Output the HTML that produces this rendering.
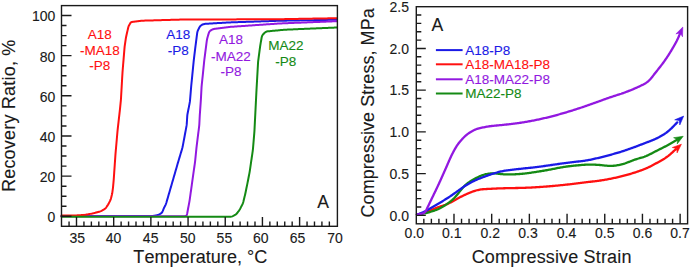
<!DOCTYPE html>
<html><head><meta charset="utf-8"><style>
html,body{margin:0;padding:0;background:#fff;width:691px;height:267px;overflow:hidden}
svg{display:block;font-family:'Liberation Sans', sans-serif;font-kerning:none}
</style></head><body>
<svg width="691" height="267" viewBox="0 0 691 267">
<path d="M61.50,216.00 L62.50,216.00 L63.50,216.00 L64.50,216.00 L65.50,216.00 L66.50,216.00 L67.50,216.00 L68.50,216.00 L69.50,216.00 L70.50,216.00 L71.50,216.00 L72.50,216.00 L73.50,216.00 L74.50,216.00 L75.50,216.00 L76.50,216.00 L77.50,216.00 L78.50,216.00 L79.50,216.00 L80.50,216.00 L81.50,216.00 L82.50,216.00 L83.50,216.00 L84.50,216.00 L85.50,216.00 L86.50,216.00 L87.50,216.00 L88.50,216.00 L89.50,216.00 L90.50,216.00 L91.50,216.00 L92.50,216.00 L93.50,216.00 L94.50,216.00 L95.50,216.00 L96.50,216.00 L97.50,216.00 L98.50,216.00 L99.50,216.00 L100.50,216.00 L101.50,216.00 L102.50,216.00 L103.50,216.00 L104.50,216.00 L105.50,216.00 L106.50,216.00 L107.50,216.00 L108.50,216.00 L109.50,216.00 L110.50,216.00 L111.50,216.00 L112.50,216.00 L113.50,216.00 L114.50,216.00 L115.50,216.00 L116.50,216.00 L117.50,216.00 L118.50,216.00 L119.50,216.00 L120.50,216.00 L121.50,216.00 L122.50,216.00 L123.50,216.00 L124.50,216.00 L125.50,216.00 L126.50,216.00 L127.50,216.00 L128.50,216.00 L129.50,216.00 L130.50,216.00 L131.50,216.00 L132.50,216.00 L133.50,216.00 L134.50,216.00 L135.50,216.00 L136.50,216.00 L137.50,216.00 L138.50,216.00 L139.50,216.00 L140.50,216.00 L141.50,216.00 L142.50,216.00 L143.50,216.00 L144.50,216.00 L145.50,216.00 L146.50,216.00 L147.50,216.00 L148.50,216.00 L149.50,216.00 L150.50,216.00 L151.50,215.98 L152.49,215.92 L153.48,215.80 L154.47,215.64 L155.45,215.47 L156.43,215.28 L157.40,215.06 L158.34,214.76 L159.26,214.38 L160.15,213.93 L160.98,213.43 L161.70,212.82 L162.25,212.06 L162.67,211.18 L163.04,210.26 L163.40,209.33 L163.80,208.41 L164.22,207.51 L164.67,206.61 L165.11,205.72 L165.55,204.82 L165.94,203.91 L166.27,202.97 L166.56,202.01 L166.84,201.05 L167.12,200.09 L167.39,199.13 L167.67,198.17 L167.95,197.21 L168.23,196.25 L168.50,195.29 L168.78,194.33 L169.06,193.37 L169.34,192.41 L169.62,191.45 L169.90,190.49 L170.18,189.53 L170.46,188.57 L170.74,187.61 L171.02,186.65 L171.30,185.69 L171.58,184.73 L171.85,183.77 L172.13,182.81 L172.41,181.84 L172.69,180.88 L172.97,179.92 L173.25,178.96 L173.53,178.00 L173.80,177.04 L174.08,176.08 L174.36,175.12 L174.64,174.16 L174.91,173.20 L175.19,172.24 L175.47,171.28 L175.75,170.32 L176.03,169.36 L176.30,168.40 L176.58,167.44 L176.86,166.48 L177.14,165.52 L177.42,164.55 L177.69,163.59 L177.97,162.63 L178.25,161.67 L178.54,160.71 L178.82,159.76 L179.11,158.80 L179.40,157.84 L179.69,156.88 L179.97,155.93 L180.26,154.97 L180.55,154.01 L180.83,153.05 L181.12,152.09 L181.41,151.14 L181.70,150.18 L181.98,149.22 L182.25,148.26 L182.50,147.29 L182.71,146.31 L182.90,145.33 L183.09,144.35 L183.27,143.37 L183.45,142.38 L183.64,141.40 L183.82,140.42 L184.01,139.44 L184.19,138.45 L184.37,137.47 L184.56,136.49 L184.74,135.50 L184.92,134.52 L185.11,133.54 L185.29,132.55 L185.47,131.57 L185.66,130.59 L185.84,129.61 L186.02,128.62 L186.21,127.64 L186.39,126.66 L186.55,125.67 L186.68,124.68 L186.77,123.69 L186.84,122.69 L186.90,121.69 L186.96,120.69 L187.02,119.69 L187.08,118.70 L187.14,117.70 L187.20,116.70 L187.29,115.71 L187.40,114.71 L187.56,113.73 L187.75,112.75 L187.94,111.77 L188.14,110.79 L188.33,109.80 L188.53,108.82 L188.72,107.84 L188.92,106.86 L189.11,105.88 L189.30,104.90 L189.50,103.92 L189.68,102.94 L189.84,101.95 L189.96,100.96 L190.06,99.96 L190.14,98.97 L190.23,97.97 L190.31,96.98 L190.39,95.98 L190.47,94.98 L190.56,93.99 L190.64,92.99 L190.72,91.99 L190.80,91.00 L190.89,90.00 L190.97,89.00 L191.05,88.01 L191.14,87.01 L191.22,86.01 L191.32,85.02 L191.42,84.02 L191.51,83.03 L191.61,82.03 L191.71,81.04 L191.81,80.04 L191.91,79.05 L192.01,78.05 L192.11,77.06 L192.21,76.06 L192.30,75.07 L192.40,74.07 L192.50,73.08 L192.60,72.08 L192.70,71.09 L192.80,70.09 L192.90,69.10 L193.00,68.10 L193.09,67.11 L193.19,66.11 L193.29,65.12 L193.39,64.12 L193.49,63.13 L193.59,62.13 L193.69,61.14 L193.80,60.14 L193.91,59.15 L194.03,58.15 L194.15,57.16 L194.27,56.17 L194.39,55.18 L194.51,54.18 L194.64,53.19 L194.76,52.20 L194.88,51.21 L195.00,50.21 L195.12,49.22 L195.24,48.23 L195.37,47.24 L195.49,46.24 L195.61,45.25 L195.73,44.26 L195.86,43.27 L195.98,42.27 L196.11,41.28 L196.24,40.29 L196.37,39.30 L196.50,38.31 L196.62,37.32 L196.75,36.32 L196.88,35.33 L197.01,34.34 L197.14,33.35 L197.30,32.37 L197.54,31.41 L197.88,30.49 L198.30,29.59 L198.75,28.70 L199.21,27.81 L199.70,26.95 L200.26,26.16 L200.95,25.50 L201.76,24.96 L202.64,24.51 L203.55,24.16 L204.50,23.93 L205.48,23.81 L206.48,23.74 L207.47,23.68 L208.47,23.63 L209.47,23.57 L210.47,23.51 L211.47,23.46 L212.47,23.40 L213.46,23.34 L214.46,23.29 L215.46,23.23 L216.46,23.17 L217.46,23.12 L218.46,23.06 L219.46,23.00 L220.45,22.94 L221.45,22.89 L222.45,22.83 L223.45,22.77 L224.45,22.72 L225.45,22.66 L226.44,22.60 L227.44,22.55 L228.44,22.49 L229.44,22.44 L230.44,22.39 L231.44,22.35 L232.44,22.32 L233.44,22.29 L234.44,22.25 L235.44,22.22 L236.43,22.19 L237.43,22.15 L238.43,22.12 L239.43,22.09 L240.43,22.06 L241.43,22.02 L242.43,21.99 L243.43,21.96 L244.43,21.92 L245.43,21.89 L246.43,21.86 L247.43,21.82 L248.43,21.79 L249.43,21.76 L250.43,21.73 L251.43,21.69 L252.43,21.66 L253.43,21.63 L254.42,21.59 L255.42,21.56 L256.42,21.53 L257.42,21.50 L258.42,21.46 L259.42,21.43 L260.42,21.40 L261.42,21.36 L262.42,21.33 L263.42,21.30 L264.42,21.26 L265.42,21.23 L266.42,21.20 L267.42,21.17 L268.42,21.13 L269.42,21.10 L270.42,21.07 L271.42,21.03 L272.41,21.00 L273.41,20.97 L274.41,20.93 L275.41,20.90 L276.41,20.87 L277.41,20.84 L278.41,20.80 L279.41,20.77 L280.41,20.75 L281.41,20.73 L282.41,20.71 L283.41,20.69 L284.41,20.67 L285.41,20.65 L286.41,20.63 L287.41,20.61 L288.41,20.60 L289.41,20.58 L290.41,20.56 L291.41,20.54 L292.41,20.52 L293.41,20.50 L294.41,20.48 L295.41,20.47 L296.41,20.45 L297.41,20.43 L298.41,20.41 L299.41,20.39 L300.41,20.37 L301.41,20.36 L302.41,20.34 L303.41,20.32 L304.41,20.30 L305.41,20.28 L306.41,20.26 L307.41,20.25 L308.41,20.23 L309.41,20.21 L310.41,20.19 L311.41,20.17 L312.41,20.15 L313.41,20.13 L314.40,20.12 L315.40,20.10 L316.40,20.08 L317.40,20.06 L318.40,20.04 L319.40,20.02 L320.40,20.01 L321.40,19.99 L322.40,19.97 L323.40,19.95 L324.40,19.93 L325.40,19.91 L326.40,19.90 L327.40,19.88 L328.40,19.86 L329.40,19.84 L330.40,19.82 L331.40,19.80 L332.40,19.78 L333.40,19.77 L334.40,19.75 L335.36,19.73 L336.24,19.71 L337.00,19.70 L337.00,19.70" fill="none" stroke="#1a1ae6" stroke-width="2.0" stroke-linejoin="round" stroke-linecap="round"/>
<path d="M61.50,216.20 L62.50,216.20 L63.50,216.20 L64.50,216.20 L65.50,216.20 L66.50,216.20 L67.50,216.20 L68.50,216.20 L69.50,216.20 L70.50,216.20 L71.50,216.20 L72.50,216.20 L73.50,216.20 L74.50,216.20 L75.50,216.20 L76.50,216.20 L77.50,216.20 L78.50,216.20 L79.50,216.20 L80.50,216.20 L81.50,216.20 L82.50,216.20 L83.50,216.20 L84.50,216.20 L85.50,216.20 L86.50,216.20 L87.50,216.20 L88.50,216.20 L89.50,216.20 L90.50,216.20 L91.50,216.20 L92.50,216.20 L93.50,216.20 L94.50,216.20 L95.50,216.20 L96.50,216.20 L97.50,216.20 L98.50,216.20 L99.50,216.20 L100.50,216.20 L101.50,216.20 L102.50,216.20 L103.50,216.20 L104.50,216.20 L105.50,216.20 L106.50,216.20 L107.50,216.20 L108.50,216.20 L109.50,216.20 L110.50,216.20 L111.50,216.20 L112.50,216.20 L113.50,216.20 L114.50,216.20 L115.50,216.20 L116.50,216.20 L117.50,216.20 L118.50,216.20 L119.50,216.20 L120.50,216.20 L121.50,216.20 L122.50,216.20 L123.50,216.20 L124.50,216.20 L125.50,216.20 L126.50,216.20 L127.50,216.20 L128.50,216.20 L129.50,216.20 L130.50,216.20 L131.50,216.20 L132.50,216.20 L133.50,216.20 L134.50,216.20 L135.50,216.20 L136.50,216.20 L137.50,216.20 L138.50,216.20 L139.50,216.20 L140.50,216.20 L141.50,216.20 L142.50,216.20 L143.50,216.20 L144.50,216.20 L145.50,216.20 L146.50,216.20 L147.50,216.20 L148.50,216.20 L149.50,216.20 L150.50,216.20 L151.50,216.20 L152.50,216.20 L153.50,216.20 L154.50,216.20 L155.50,216.20 L156.50,216.20 L157.50,216.20 L158.50,216.20 L159.50,216.20 L160.50,216.20 L161.50,216.20 L162.50,216.20 L163.50,216.20 L164.50,216.20 L165.50,216.20 L166.50,216.20 L167.50,216.20 L168.50,216.20 L169.50,216.20 L170.50,216.20 L171.50,216.20 L172.50,216.20 L173.50,216.20 L174.50,216.20 L175.50,216.20 L176.50,216.20 L177.50,216.20 L178.50,216.20 L179.50,216.20 L180.50,216.20 L181.50,216.20 L182.50,216.20 L183.50,216.20 L184.49,216.18 L185.42,216.10 L186.18,215.82 L186.69,215.23 L186.99,214.39 L187.20,213.44 L187.38,212.46 L187.56,211.48 L187.74,210.49 L187.92,209.51 L188.10,208.53 L188.29,207.54 L188.47,206.56 L188.66,205.58 L188.85,204.60 L189.03,203.61 L189.22,202.63 L189.40,201.65 L189.57,200.66 L189.72,199.68 L189.87,198.69 L190.00,197.70 L190.14,196.70 L190.28,195.71 L190.42,194.72 L190.56,193.73 L190.69,192.74 L190.83,191.75 L190.97,190.76 L191.11,189.77 L191.24,188.78 L191.38,187.79 L191.52,186.80 L191.66,185.81 L191.80,184.82 L191.93,183.83 L192.07,182.84 L192.21,181.85 L192.35,180.86 L192.49,179.87 L192.63,178.88 L192.77,177.89 L192.91,176.90 L193.05,175.91 L193.19,174.92 L193.33,173.93 L193.47,172.94 L193.62,171.95 L193.76,170.96 L193.90,169.97 L194.04,168.98 L194.18,167.99 L194.32,167.00 L194.46,166.01 L194.60,165.02 L194.74,164.03 L194.88,163.04 L195.01,162.05 L195.13,161.05 L195.24,160.06 L195.34,159.06 L195.44,158.07 L195.54,157.07 L195.64,156.08 L195.74,155.08 L195.84,154.09 L195.94,153.09 L196.04,152.10 L196.14,151.10 L196.24,150.11 L196.34,149.11 L196.44,148.12 L196.55,147.13 L196.67,146.13 L196.79,145.14 L196.92,144.15 L197.04,143.16 L197.16,142.16 L197.29,141.17 L197.41,140.18 L197.53,139.19 L197.66,138.19 L197.78,137.20 L197.91,136.21 L198.03,135.22 L198.15,134.22 L198.28,133.23 L198.40,132.24 L198.52,131.25 L198.65,130.26 L198.77,129.26 L198.89,128.27 L199.02,127.28 L199.13,126.29 L199.24,125.29 L199.32,124.30 L199.38,123.30 L199.43,122.30 L199.48,121.30 L199.53,120.30 L199.58,119.30 L199.63,118.30 L199.68,117.31 L199.74,116.31 L199.79,115.31 L199.85,114.31 L199.92,113.31 L199.99,112.31 L200.06,111.32 L200.13,110.32 L200.20,109.32 L200.27,108.32 L200.34,107.33 L200.41,106.33 L200.48,105.33 L200.55,104.33 L200.62,103.34 L200.69,102.34 L200.76,101.34 L200.82,100.34 L200.89,99.35 L200.95,98.35 L201.00,97.35 L201.06,96.35 L201.11,95.35 L201.16,94.35 L201.22,93.36 L201.27,92.36 L201.32,91.36 L201.38,90.36 L201.43,89.36 L201.49,88.36 L201.54,87.36 L201.61,86.37 L201.70,85.37 L201.80,84.38 L201.90,83.38 L202.01,82.39 L202.11,81.39 L202.22,80.40 L202.33,79.40 L202.43,78.41 L202.54,77.42 L202.65,76.42 L202.75,75.43 L202.86,74.43 L202.96,73.44 L203.06,72.44 L203.16,71.45 L203.26,70.45 L203.36,69.46 L203.46,68.46 L203.56,67.47 L203.66,66.47 L203.76,65.48 L203.86,64.48 L203.95,63.49 L204.05,62.49 L204.15,61.50 L204.26,60.50 L204.37,59.51 L204.49,58.52 L204.62,57.53 L204.75,56.53 L204.88,55.54 L205.01,54.55 L205.14,53.56 L205.26,52.57 L205.39,51.58 L205.52,50.58 L205.65,49.59 L205.78,48.60 L205.91,47.61 L206.04,46.62 L206.17,45.62 L206.29,44.63 L206.42,43.64 L206.55,42.65 L206.68,41.66 L206.82,40.67 L206.98,39.68 L207.18,38.71 L207.43,37.74 L207.71,36.78 L207.98,35.82 L208.26,34.86 L208.55,33.90 L208.85,32.96 L209.22,32.07 L209.74,31.29 L210.44,30.64 L211.24,30.08 L212.10,29.59 L213.00,29.22 L213.95,28.98 L214.93,28.82 L215.92,28.69 L216.91,28.56 L217.90,28.44 L218.89,28.31 L219.89,28.19 L220.88,28.06 L221.87,27.93 L222.86,27.81 L223.85,27.68 L224.85,27.56 L225.84,27.43 L226.83,27.30 L227.82,27.18 L228.81,27.06 L229.81,26.95 L230.80,26.86 L231.80,26.78 L232.80,26.71 L233.80,26.64 L234.79,26.57 L235.79,26.50 L236.79,26.43 L237.79,26.36 L238.78,26.29 L239.78,26.23 L240.78,26.16 L241.78,26.09 L242.77,26.02 L243.77,25.95 L244.77,25.88 L245.77,25.81 L246.76,25.74 L247.76,25.67 L248.76,25.61 L249.76,25.54 L250.75,25.47 L251.75,25.40 L252.75,25.33 L253.75,25.26 L254.75,25.19 L255.74,25.12 L256.74,25.05 L257.74,24.99 L258.74,24.92 L259.73,24.85 L260.73,24.78 L261.73,24.71 L262.73,24.64 L263.72,24.57 L264.72,24.50 L265.72,24.44 L266.72,24.37 L267.71,24.30 L268.71,24.23 L269.71,24.16 L270.71,24.09 L271.70,24.02 L272.70,23.95 L273.70,23.88 L274.70,23.82 L275.70,23.75 L276.69,23.68 L277.69,23.61 L278.69,23.54 L279.69,23.48 L280.69,23.43 L281.68,23.38 L282.68,23.34 L283.68,23.30 L284.68,23.27 L285.68,23.23 L286.68,23.19 L287.68,23.15 L288.68,23.11 L289.68,23.07 L290.68,23.03 L291.68,22.99 L292.68,22.95 L293.67,22.91 L294.67,22.87 L295.67,22.83 L296.67,22.79 L297.67,22.75 L298.67,22.71 L299.67,22.67 L300.67,22.63 L301.67,22.59 L302.67,22.56 L303.67,22.52 L304.67,22.48 L305.67,22.44 L306.66,22.40 L307.66,22.36 L308.66,22.32 L309.66,22.28 L310.66,22.24 L311.66,22.20 L312.66,22.16 L313.66,22.12 L314.66,22.08 L315.66,22.04 L316.66,22.00 L317.66,21.96 L318.66,21.92 L319.65,21.88 L320.65,21.85 L321.65,21.81 L322.65,21.77 L323.65,21.73 L324.65,21.69 L325.65,21.65 L326.65,21.61 L327.65,21.57 L328.65,21.53 L329.65,21.49 L330.65,21.45 L331.65,21.41 L332.64,21.37 L333.64,21.33 L334.64,21.29 L335.61,21.25 L336.55,21.22 L337.00,21.20" fill="none" stroke="#9218e0" stroke-width="2.0" stroke-linejoin="round" stroke-linecap="round"/>
<path d="M61.50,215.60 L62.50,215.59 L63.50,215.59 L64.50,215.58 L65.50,215.57 L66.50,215.56 L67.50,215.56 L68.50,215.55 L69.50,215.54 L70.50,215.53 L71.50,215.53 L72.50,215.52 L73.50,215.51 L74.50,215.50 L75.50,215.46 L76.50,215.41 L77.49,215.34 L78.49,215.28 L79.49,215.22 L80.49,215.15 L81.49,215.09 L82.48,215.03 L83.48,214.96 L84.48,214.87 L85.47,214.73 L86.45,214.56 L87.44,214.39 L88.42,214.22 L89.41,214.05 L90.39,213.88 L91.38,213.70 L92.36,213.51 L93.33,213.29 L94.31,213.06 L95.27,212.81 L96.23,212.53 L97.19,212.24 L98.15,211.97 L99.12,211.70 L100.08,211.43 L101.01,211.10 L101.90,210.65 L102.76,210.14 L103.62,209.63 L104.47,209.11 L105.26,208.53 L105.92,207.81 L106.50,207.00 L107.06,206.17 L107.61,205.33 L108.15,204.50 L108.66,203.63 L109.11,202.75 L109.55,201.85 L109.99,200.95 L110.41,200.04 L110.76,199.11 L111.03,198.15 L111.28,197.19 L111.52,196.21 L111.76,195.24 L112.00,194.27 L112.20,193.30 L112.36,192.31 L112.49,191.32 L112.62,190.33 L112.76,189.34 L112.89,188.34 L113.00,187.35 L113.11,186.36 L113.20,185.36 L113.29,184.37 L113.39,183.37 L113.48,182.37 L113.57,181.38 L113.66,180.38 L113.74,179.39 L113.81,178.39 L113.88,177.39 L113.95,176.39 L114.02,175.40 L114.09,174.40 L114.16,173.40 L114.22,172.40 L114.29,171.40 L114.36,170.41 L114.43,169.41 L114.50,168.41 L114.57,167.41 L114.64,166.42 L114.71,165.42 L114.77,164.42 L114.84,163.42 L114.91,162.43 L114.98,161.43 L115.05,160.43 L115.12,159.43 L115.19,158.44 L115.26,157.44 L115.32,156.44 L115.39,155.44 L115.46,154.45 L115.54,153.45 L115.63,152.45 L115.71,151.46 L115.80,150.46 L115.89,149.46 L115.98,148.47 L116.06,147.47 L116.15,146.47 L116.24,145.48 L116.33,144.48 L116.42,143.49 L116.50,142.49 L116.59,141.49 L116.68,140.50 L116.77,139.50 L116.85,138.51 L116.94,137.51 L117.03,136.51 L117.12,135.52 L117.20,134.52 L117.29,133.52 L117.38,132.53 L117.47,131.53 L117.56,130.54 L117.66,129.54 L117.77,128.55 L117.88,127.55 L117.99,126.56 L118.11,125.57 L118.22,124.57 L118.33,123.58 L118.45,122.59 L118.56,121.59 L118.67,120.60 L118.79,119.61 L118.90,118.61 L119.01,117.62 L119.13,116.63 L119.24,115.63 L119.36,114.64 L119.47,113.64 L119.58,112.65 L119.70,111.66 L119.81,110.66 L119.92,109.67 L120.03,108.68 L120.13,107.68 L120.23,106.69 L120.33,105.69 L120.43,104.70 L120.53,103.70 L120.63,102.71 L120.73,101.71 L120.82,100.72 L120.91,99.72 L120.97,98.72 L121.03,97.72 L121.09,96.73 L121.15,95.73 L121.20,94.73 L121.26,93.73 L121.32,92.73 L121.38,91.73 L121.44,90.74 L121.49,89.74 L121.55,88.74 L121.61,87.74 L121.67,86.74 L121.72,85.74 L121.78,84.75 L121.84,83.75 L121.90,82.75 L121.95,81.75 L122.01,80.75 L122.07,79.75 L122.13,78.76 L122.18,77.76 L122.24,76.76 L122.30,75.76 L122.36,74.76 L122.42,73.76 L122.48,72.77 L122.55,71.77 L122.63,70.77 L122.71,69.77 L122.79,68.78 L122.87,67.78 L122.95,66.78 L123.04,65.79 L123.12,64.79 L123.20,63.79 L123.28,62.80 L123.36,61.80 L123.45,60.80 L123.53,59.81 L123.61,58.81 L123.69,57.82 L123.77,56.82 L123.86,55.82 L123.94,54.83 L124.02,53.83 L124.10,52.83 L124.19,51.84 L124.27,50.84 L124.35,49.84 L124.43,48.85 L124.52,47.85 L124.61,46.85 L124.74,45.86 L124.88,44.87 L125.03,43.88 L125.18,42.89 L125.32,41.91 L125.47,40.92 L125.61,39.93 L125.76,38.94 L125.91,37.95 L126.09,36.97 L126.30,35.99 L126.52,35.01 L126.74,34.04 L126.96,33.06 L127.18,32.09 L127.41,31.11 L127.63,30.14 L127.85,29.16 L128.07,28.19 L128.31,27.22 L128.61,26.28 L129.04,25.38 L129.54,24.52 L130.04,23.65 L130.57,22.82 L131.22,22.19 L132.10,21.89 L133.08,21.76 L134.07,21.64 L135.06,21.52 L136.06,21.40 L137.05,21.29 L138.04,21.17 L139.03,21.05 L140.03,20.93 L141.02,20.82 L142.02,20.73 L143.01,20.67 L144.01,20.64 L145.01,20.61 L146.01,20.58 L147.01,20.55 L148.01,20.53 L149.01,20.50 L150.01,20.47 L151.01,20.44 L152.01,20.41 L153.01,20.38 L154.01,20.35 L155.01,20.32 L156.01,20.29 L157.01,20.27 L158.01,20.24 L159.01,20.21 L160.01,20.18 L161.01,20.15 L162.01,20.12 L163.01,20.09 L164.00,20.06 L165.00,20.03 L166.00,20.01 L167.00,19.98 L168.00,19.95 L169.00,19.92 L170.00,19.89 L171.00,19.86 L172.00,19.83 L173.00,19.80 L174.00,19.77 L175.00,19.74 L176.00,19.72 L177.00,19.69 L178.00,19.66 L179.00,19.63 L180.00,19.61 L181.00,19.60 L182.00,19.59 L183.00,19.59 L184.00,19.58 L185.00,19.58 L186.00,19.58 L187.00,19.57 L188.00,19.57 L189.00,19.56 L190.00,19.56 L191.00,19.56 L192.00,19.55 L193.00,19.55 L194.00,19.54 L195.00,19.54 L196.00,19.54 L197.00,19.53 L198.00,19.53 L199.00,19.52 L200.00,19.52 L201.00,19.52 L202.00,19.51 L203.00,19.51 L204.00,19.50 L205.00,19.50 L206.00,19.50 L207.00,19.49 L208.00,19.49 L209.00,19.48 L210.00,19.48 L211.00,19.48 L212.00,19.47 L213.00,19.47 L214.00,19.46 L215.00,19.46 L216.00,19.46 L217.00,19.45 L218.00,19.45 L219.00,19.44 L220.00,19.44 L221.00,19.44 L222.00,19.43 L223.00,19.43 L224.00,19.42 L225.00,19.42 L226.00,19.42 L227.00,19.41 L228.00,19.41 L229.00,19.40 L230.00,19.40 L231.00,19.40 L232.00,19.39 L233.00,19.39 L234.00,19.38 L235.00,19.38 L236.00,19.38 L237.00,19.37 L238.00,19.37 L239.00,19.36 L240.00,19.36 L241.00,19.36 L242.00,19.35 L243.00,19.35 L244.00,19.34 L245.00,19.34 L246.00,19.34 L247.00,19.33 L248.00,19.33 L249.00,19.32 L250.00,19.32 L251.00,19.32 L252.00,19.31 L253.00,19.31 L254.00,19.30 L255.00,19.30 L256.00,19.30 L257.00,19.29 L258.00,19.29 L259.00,19.28 L260.00,19.28 L261.00,19.28 L262.00,19.27 L263.00,19.27 L264.00,19.26 L265.00,19.26 L266.00,19.26 L267.00,19.25 L268.00,19.25 L269.00,19.24 L270.00,19.24 L271.00,19.24 L272.00,19.23 L273.00,19.23 L274.00,19.22 L275.00,19.22 L276.00,19.22 L277.00,19.21 L278.00,19.21 L279.00,19.20 L280.00,19.20 L281.00,19.18 L282.00,19.16 L283.00,19.15 L284.00,19.13 L285.00,19.11 L286.00,19.09 L287.00,19.08 L288.00,19.06 L289.00,19.04 L290.00,19.02 L291.00,19.01 L292.00,18.99 L293.00,18.97 L294.00,18.95 L295.00,18.94 L295.99,18.92 L296.99,18.90 L297.99,18.88 L298.99,18.87 L299.99,18.85 L300.99,18.83 L301.99,18.81 L302.99,18.80 L303.99,18.78 L304.99,18.76 L305.99,18.74 L306.99,18.73 L307.99,18.71 L308.99,18.69 L309.99,18.67 L310.99,18.66 L311.99,18.64 L312.99,18.62 L313.99,18.60 L314.99,18.59 L315.99,18.57 L316.99,18.55 L317.99,18.53 L318.99,18.52 L319.99,18.50 L320.99,18.48 L321.99,18.46 L322.99,18.45 L323.99,18.43 L324.99,18.41 L325.99,18.39 L326.99,18.38 L327.99,18.36 L328.99,18.34 L329.99,18.32 L330.99,18.31 L331.99,18.29 L332.99,18.27 L333.99,18.25 L334.99,18.24 L335.96,18.22 L336.72,18.20 L337.00,18.20" fill="none" stroke="#ff1010" stroke-width="2.0" stroke-linejoin="round" stroke-linecap="round"/>
<path d="M61.50,216.80 L62.50,216.80 L63.50,216.80 L64.50,216.80 L65.50,216.80 L66.50,216.80 L67.50,216.80 L68.50,216.80 L69.50,216.80 L70.50,216.80 L71.50,216.80 L72.50,216.80 L73.50,216.80 L74.50,216.80 L75.50,216.80 L76.50,216.80 L77.50,216.80 L78.50,216.80 L79.50,216.80 L80.50,216.80 L81.50,216.80 L82.50,216.80 L83.50,216.80 L84.50,216.80 L85.50,216.80 L86.50,216.80 L87.50,216.80 L88.50,216.80 L89.50,216.80 L90.50,216.80 L91.50,216.80 L92.50,216.80 L93.50,216.80 L94.50,216.80 L95.50,216.80 L96.50,216.80 L97.50,216.80 L98.50,216.80 L99.50,216.80 L100.50,216.80 L101.50,216.80 L102.50,216.80 L103.50,216.80 L104.50,216.80 L105.50,216.80 L106.50,216.80 L107.50,216.80 L108.50,216.80 L109.50,216.80 L110.50,216.80 L111.50,216.80 L112.50,216.80 L113.50,216.80 L114.50,216.80 L115.50,216.80 L116.50,216.80 L117.50,216.80 L118.50,216.80 L119.50,216.80 L120.50,216.80 L121.50,216.80 L122.50,216.80 L123.50,216.80 L124.50,216.80 L125.50,216.80 L126.50,216.80 L127.50,216.80 L128.50,216.80 L129.50,216.80 L130.50,216.80 L131.50,216.80 L132.50,216.80 L133.50,216.80 L134.50,216.80 L135.50,216.80 L136.50,216.80 L137.50,216.80 L138.50,216.80 L139.50,216.80 L140.50,216.80 L141.50,216.80 L142.50,216.80 L143.50,216.80 L144.50,216.80 L145.50,216.80 L146.50,216.80 L147.50,216.80 L148.50,216.80 L149.50,216.80 L150.50,216.80 L151.50,216.80 L152.50,216.80 L153.50,216.80 L154.50,216.80 L155.50,216.80 L156.50,216.80 L157.50,216.80 L158.50,216.80 L159.50,216.80 L160.50,216.80 L161.50,216.80 L162.50,216.80 L163.50,216.80 L164.50,216.80 L165.50,216.80 L166.50,216.80 L167.50,216.80 L168.50,216.80 L169.50,216.80 L170.50,216.80 L171.50,216.80 L172.50,216.80 L173.50,216.80 L174.50,216.80 L175.50,216.80 L176.50,216.80 L177.50,216.80 L178.50,216.80 L179.50,216.80 L180.50,216.80 L181.50,216.80 L182.50,216.80 L183.50,216.80 L184.50,216.80 L185.50,216.80 L186.50,216.80 L187.50,216.80 L188.50,216.80 L189.50,216.80 L190.50,216.80 L191.50,216.80 L192.50,216.80 L193.50,216.80 L194.50,216.80 L195.50,216.80 L196.50,216.80 L197.50,216.80 L198.50,216.80 L199.50,216.80 L200.50,216.80 L201.50,216.80 L202.50,216.80 L203.50,216.80 L204.50,216.80 L205.50,216.80 L206.50,216.80 L207.50,216.80 L208.50,216.80 L209.50,216.80 L210.50,216.80 L211.50,216.80 L212.50,216.80 L213.50,216.80 L214.50,216.80 L215.50,216.80 L216.50,216.80 L217.50,216.80 L218.50,216.80 L219.50,216.80 L220.50,216.80 L221.50,216.80 L222.50,216.80 L223.50,216.80 L224.50,216.80 L225.50,216.80 L226.50,216.80 L227.50,216.80 L228.50,216.80 L229.50,216.79 L230.49,216.75 L231.45,216.62 L232.38,216.34 L233.28,215.94 L234.17,215.48 L235.03,214.98 L235.84,214.43 L236.56,213.77 L237.21,213.03 L237.83,212.24 L238.43,211.45 L239.01,210.64 L239.56,209.80 L240.06,208.94 L240.53,208.06 L240.98,207.17 L241.44,206.28 L241.89,205.39 L242.33,204.49 L242.73,203.58 L243.08,202.65 L243.36,201.69 L243.60,200.73 L243.84,199.75 L244.08,198.78 L244.32,197.81 L244.55,196.84 L244.79,195.87 L245.02,194.90 L245.24,193.92 L245.45,192.94 L245.66,191.96 L245.86,190.99 L246.06,190.01 L246.26,189.03 L246.46,188.05 L246.66,187.07 L246.87,186.09 L247.07,185.11 L247.27,184.13 L247.47,183.15 L247.66,182.17 L247.85,181.19 L248.04,180.20 L248.24,179.22 L248.43,178.24 L248.62,177.26 L248.81,176.28 L249.00,175.30 L249.19,174.32 L249.38,173.33 L249.56,172.35 L249.73,171.37 L249.89,170.38 L250.04,169.39 L250.18,168.40 L250.32,167.41 L250.47,166.42 L250.61,165.43 L250.76,164.44 L250.90,163.45 L251.04,162.46 L251.19,161.47 L251.33,160.48 L251.48,159.49 L251.62,158.50 L251.76,157.51 L251.91,156.52 L252.05,155.53 L252.20,154.54 L252.34,153.56 L252.48,152.57 L252.63,151.58 L252.76,150.59 L252.88,149.59 L252.99,148.60 L253.07,147.60 L253.16,146.61 L253.24,145.61 L253.33,144.61 L253.41,143.62 L253.49,142.62 L253.58,141.62 L253.66,140.63 L253.74,139.63 L253.83,138.63 L253.91,137.64 L253.99,136.64 L254.08,135.65 L254.16,134.65 L254.24,133.65 L254.32,132.66 L254.39,131.66 L254.45,130.66 L254.51,129.66 L254.56,128.66 L254.61,127.66 L254.66,126.66 L254.71,125.67 L254.76,124.67 L254.81,123.67 L254.86,122.67 L254.91,121.67 L254.96,120.67 L255.01,119.67 L255.06,118.68 L255.11,117.68 L255.16,116.68 L255.21,115.68 L255.26,114.68 L255.31,113.68 L255.36,112.68 L255.41,111.68 L255.46,110.69 L255.51,109.69 L255.56,108.69 L255.61,107.69 L255.66,106.69 L255.71,105.69 L255.76,104.69 L255.81,103.69 L255.86,102.70 L255.91,101.70 L255.96,100.70 L256.01,99.70 L256.06,98.70 L256.11,97.70 L256.16,96.70 L256.21,95.70 L256.26,94.71 L256.31,93.71 L256.36,92.71 L256.41,91.71 L256.47,90.71 L256.52,89.71 L256.57,88.71 L256.63,87.71 L256.68,86.72 L256.74,85.72 L256.80,84.72 L256.85,83.72 L256.91,82.72 L256.97,81.72 L257.02,80.73 L257.08,79.73 L257.13,78.73 L257.19,77.73 L257.25,76.73 L257.30,75.73 L257.36,74.74 L257.42,73.74 L257.47,72.74 L257.53,71.74 L257.58,70.74 L257.64,69.74 L257.70,68.74 L257.75,67.75 L257.81,66.75 L257.87,65.75 L257.92,64.75 L257.98,63.75 L258.04,62.76 L258.12,61.76 L258.22,60.76 L258.35,59.77 L258.48,58.78 L258.61,57.79 L258.74,56.80 L258.87,55.81 L259.01,54.82 L259.14,53.83 L259.27,52.83 L259.41,51.84 L259.54,50.85 L259.67,49.86 L259.80,48.87 L259.94,47.88 L260.07,46.89 L260.22,45.90 L260.38,44.91 L260.54,43.93 L260.71,42.94 L260.88,41.95 L261.05,40.97 L261.22,39.98 L261.39,39.00 L261.57,38.02 L261.76,37.04 L262.04,36.11 L262.46,35.25 L263.05,34.48 L263.71,33.75 L264.41,33.04 L265.14,32.38 L265.93,31.86 L266.81,31.52 L267.76,31.34 L268.75,31.23 L269.75,31.14 L270.74,31.04 L271.74,30.95 L272.73,30.86 L273.73,30.76 L274.72,30.67 L275.72,30.57 L276.71,30.48 L277.71,30.39 L278.71,30.29 L279.70,30.20 L280.70,30.11 L281.69,30.01 L282.69,29.92 L283.68,29.83 L284.68,29.75 L285.68,29.68 L286.68,29.63 L287.68,29.59 L288.67,29.54 L289.67,29.50 L290.67,29.46 L291.67,29.42 L292.67,29.38 L293.67,29.33 L294.67,29.29 L295.67,29.25 L296.67,29.21 L297.67,29.16 L298.67,29.12 L299.66,29.08 L300.66,29.04 L301.66,29.00 L302.66,28.95 L303.66,28.91 L304.66,28.87 L305.66,28.83 L306.66,28.78 L307.66,28.74 L308.66,28.70 L309.66,28.66 L310.66,28.61 L311.65,28.57 L312.65,28.53 L313.65,28.49 L314.65,28.45 L315.65,28.40 L316.65,28.36 L317.65,28.32 L318.65,28.28 L319.65,28.23 L320.65,28.19 L321.65,28.15 L322.64,28.11 L323.64,28.07 L324.64,28.02 L325.64,27.98 L326.64,27.94 L327.64,27.90 L328.64,27.85 L329.64,27.81 L330.64,27.77 L331.64,27.73 L332.64,27.68 L333.63,27.64 L334.63,27.60 L335.60,27.56 L336.54,27.52 L337.00,27.50" fill="none" stroke="#148a14" stroke-width="2.0" stroke-linejoin="round" stroke-linecap="round"/>
<path d="M69.06,226.3v-4.8 M76.50,226.3v-9.4 M83.94,226.3v-4.8 M91.37,226.3v-4.8 M98.81,226.3v-4.8 M106.25,226.3v-4.8 M113.69,226.3v-9.4 M121.12,226.3v-4.8 M128.56,226.3v-4.8 M136.00,226.3v-4.8 M143.43,226.3v-4.8 M150.87,226.3v-9.4 M158.31,226.3v-4.8 M165.74,226.3v-4.8 M173.18,226.3v-4.8 M180.62,226.3v-4.8 M188.06,226.3v-9.4 M195.49,226.3v-4.8 M202.93,226.3v-4.8 M210.37,226.3v-4.8 M217.80,226.3v-4.8 M225.24,226.3v-9.4 M232.68,226.3v-4.8 M240.11,226.3v-4.8 M247.55,226.3v-4.8 M254.99,226.3v-4.8 M262.43,226.3v-9.4 M269.86,226.3v-4.8 M277.30,226.3v-4.8 M284.74,226.3v-4.8 M292.17,226.3v-4.8 M299.61,226.3v-9.4 M307.05,226.3v-4.8 M314.48,226.3v-4.8 M321.92,226.3v-4.8 M329.36,226.3v-4.8 M61.5,216.30h10 M61.5,206.26h5 M61.5,196.22h5 M61.5,186.18h5 M61.5,176.14h10 M61.5,166.10h5 M61.5,156.06h5 M61.5,146.02h5 M61.5,135.98h10 M61.5,125.94h5 M61.5,115.90h5 M61.5,105.86h5 M61.5,95.82h10 M61.5,85.78h5 M61.5,75.74h5 M61.5,65.70h5 M61.5,55.66h10 M61.5,45.62h5 M61.5,35.58h5 M61.5,25.54h5 M61.5,15.50h10" stroke="#1a1a1a" stroke-width="1.4" fill="none"/>
<rect x="61.5" y="5.6" width="275.9" height="220.70000000000002" fill="none" stroke="#1a1a1a" stroke-width="1.4"/>
<text x="55.4" y="222.20000000000002" font-size="14" fill="#1a1a1a" stroke="#1a1a1a" stroke-width="0.12" text-anchor="end" >0</text>
<text x="55.4" y="182.04000000000002" font-size="14" fill="#1a1a1a" stroke="#1a1a1a" stroke-width="0.12" text-anchor="end" >20</text>
<text x="55.4" y="141.88000000000002" font-size="14" fill="#1a1a1a" stroke="#1a1a1a" stroke-width="0.12" text-anchor="end" >40</text>
<text x="55.4" y="101.72000000000001" font-size="14" fill="#1a1a1a" stroke="#1a1a1a" stroke-width="0.12" text-anchor="end" >60</text>
<text x="55.4" y="61.560000000000024" font-size="14" fill="#1a1a1a" stroke="#1a1a1a" stroke-width="0.12" text-anchor="end" >80</text>
<text x="55.4" y="21.4" font-size="14" fill="#1a1a1a" stroke="#1a1a1a" stroke-width="0.12" text-anchor="end" >100</text>
<text x="77.3" y="243.2" font-size="14" fill="#1a1a1a" stroke="#1a1a1a" stroke-width="0.12" text-anchor="middle" >35</text>
<text x="113.60000000000001" y="243.2" font-size="14" fill="#1a1a1a" stroke="#1a1a1a" stroke-width="0.12" text-anchor="middle" >40</text>
<text x="150.64999999999998" y="243.2" font-size="14" fill="#1a1a1a" stroke="#1a1a1a" stroke-width="0.12" text-anchor="middle" >45</text>
<text x="187.7" y="243.2" font-size="14" fill="#1a1a1a" stroke="#1a1a1a" stroke-width="0.12" text-anchor="middle" >50</text>
<text x="224.39999999999998" y="243.2" font-size="14" fill="#1a1a1a" stroke="#1a1a1a" stroke-width="0.12" text-anchor="middle" >55</text>
<text x="260.8" y="243.2" font-size="14" fill="#1a1a1a" stroke="#1a1a1a" stroke-width="0.12" text-anchor="middle" >60</text>
<text x="297.59999999999997" y="243.2" font-size="14" fill="#1a1a1a" stroke="#1a1a1a" stroke-width="0.12" text-anchor="middle" >65</text>
<text x="335.0" y="243.2" font-size="14" fill="#1a1a1a" stroke="#1a1a1a" stroke-width="0.12" text-anchor="middle" >70</text>
<text x="200.35" y="263.1" font-size="18" fill="#1a1a1a" stroke="#1a1a1a" stroke-width="0.12" text-anchor="middle" textLength="133.97" lengthAdjust="spacing">Temperature, °C</text>
<text transform="translate(15.2,115.85) rotate(-90)" font-size="18" fill="#1a1a1a" stroke="#1a1a1a" stroke-width="0.12" text-anchor="middle" textLength="152.4" lengthAdjust="spacing">Recovery Ratio, %</text>
<text x="323.0" y="208.4" font-size="17.6" fill="#1a1a1a" stroke="#1a1a1a" stroke-width="0.12" text-anchor="middle" >A</text>
<text x="99.8" y="39.2" font-size="13.5" fill="#ff1010" stroke="#ff1010" stroke-width="0.12" text-anchor="middle" >A18</text>
<text x="99.8" y="54.5" font-size="13.5" fill="#ff1010" stroke="#ff1010" stroke-width="0.12" text-anchor="middle" >-MA18</text>
<text x="99.8" y="70.2" font-size="13.5" fill="#ff1010" stroke="#ff1010" stroke-width="0.12" text-anchor="middle" >-P8</text>
<text x="178.2" y="39.3" font-size="13.5" fill="#1a1ae6" stroke="#1a1ae6" stroke-width="0.12" text-anchor="middle" >A18</text>
<text x="178.2" y="55.0" font-size="13.5" fill="#1a1ae6" stroke="#1a1ae6" stroke-width="0.12" text-anchor="middle" >-P8</text>
<text x="231.0" y="44.2" font-size="13.5" fill="#9218e0" stroke="#9218e0" stroke-width="0.12" text-anchor="middle" >A18</text>
<text x="231.0" y="60.6" font-size="13.5" fill="#9218e0" stroke="#9218e0" stroke-width="0.12" text-anchor="middle" >-MA22</text>
<text x="231.0" y="75.7" font-size="13.5" fill="#9218e0" stroke="#9218e0" stroke-width="0.12" text-anchor="middle" >-P8</text>
<text x="285.8" y="49.7" font-size="13.5" fill="#148a14" stroke="#148a14" stroke-width="0.12" text-anchor="middle" >MA22</text>
<text x="285.8" y="66.0" font-size="13.5" fill="#148a14" stroke="#148a14" stroke-width="0.12" text-anchor="middle" >-P8</text>
<path d="M417.00,214.70 L417.97,214.44 L418.93,214.19 L419.90,213.93 L420.86,213.66 L421.83,213.40 L422.79,213.12 L423.75,212.84 L424.70,212.54 L425.65,212.22 L426.59,211.89 L427.53,211.55 L428.46,211.19 L429.39,210.82 L430.31,210.44 L431.23,210.05 L432.15,209.65 L433.07,209.26 L433.99,208.87 L434.92,208.49 L435.85,208.12 L436.78,207.77 L437.72,207.43 L438.66,207.10 L439.61,206.78 L440.56,206.46 L441.51,206.15 L442.46,205.83 L443.40,205.51 L444.34,205.17 L445.28,204.83 L446.21,204.47 L447.14,204.09 L448.05,203.69 L448.96,203.27 L449.85,202.83 L450.74,202.37 L451.62,201.90 L452.50,201.42 L453.37,200.93 L454.24,200.43 L455.11,199.94 L455.97,199.44 L456.84,198.95 L457.72,198.46 L458.59,197.98 L459.48,197.51 L460.37,197.05 L461.26,196.60 L462.15,196.16 L463.05,195.72 L463.96,195.29 L464.86,194.87 L465.77,194.45 L466.68,194.04 L467.60,193.64 L468.51,193.24 L469.44,192.85 L470.36,192.48 L471.29,192.11 L472.23,191.76 L473.17,191.42 L474.11,191.10 L475.06,190.80 L476.02,190.51 L476.98,190.25 L477.95,190.02 L478.93,189.81 L479.91,189.63 L480.90,189.48 L481.89,189.36 L482.88,189.26 L483.88,189.17 L484.87,189.11 L485.87,189.05 L486.87,188.99 L487.87,188.94 L488.87,188.89 L489.86,188.83 L490.86,188.78 L491.86,188.73 L492.86,188.68 L493.86,188.63 L494.86,188.59 L495.86,188.54 L496.86,188.50 L497.86,188.46 L498.85,188.42 L499.85,188.38 L500.85,188.35 L501.85,188.31 L502.85,188.29 L503.85,188.26 L504.85,188.24 L505.85,188.21 L506.85,188.20 L507.85,188.18 L508.85,188.16 L509.85,188.14 L510.85,188.12 L511.85,188.10 L512.85,188.08 L513.85,188.06 L514.85,188.04 L515.85,188.02 L516.85,188.00 L517.85,187.98 L518.85,187.95 L519.85,187.93 L520.85,187.91 L521.85,187.88 L522.85,187.85 L523.85,187.83 L524.85,187.79 L525.85,187.76 L526.85,187.72 L527.84,187.68 L528.84,187.64 L529.84,187.60 L530.84,187.55 L531.84,187.50 L532.84,187.44 L533.84,187.39 L534.84,187.33 L535.83,187.27 L536.83,187.21 L537.83,187.14 L538.83,187.07 L539.82,187.01 L540.82,186.94 L541.82,186.86 L542.82,186.79 L543.81,186.72 L544.81,186.64 L545.81,186.56 L546.81,186.48 L547.80,186.40 L548.80,186.32 L549.80,186.24 L550.79,186.15 L551.79,186.07 L552.78,185.98 L553.78,185.89 L554.78,185.80 L555.77,185.71 L556.77,185.62 L557.76,185.52 L558.76,185.43 L559.75,185.33 L560.75,185.23 L561.74,185.13 L562.74,185.03 L563.73,184.92 L564.73,184.82 L565.72,184.72 L566.72,184.61 L567.71,184.50 L568.70,184.39 L569.70,184.28 L570.69,184.17 L571.69,184.06 L572.68,183.95 L573.67,183.83 L574.67,183.71 L575.66,183.59 L576.65,183.47 L577.64,183.35 L578.64,183.23 L579.63,183.10 L580.62,182.98 L581.61,182.86 L582.61,182.73 L583.60,182.60 L584.59,182.48 L585.58,182.35 L586.57,182.23 L587.57,182.10 L588.56,181.98 L589.55,181.86 L590.54,181.74 L591.54,181.63 L592.53,181.51 L593.52,181.40 L594.52,181.29 L595.51,181.17 L596.50,181.05 L597.50,180.93 L598.49,180.80 L599.48,180.65 L600.47,180.51 L601.45,180.35 L602.44,180.19 L603.43,180.02 L604.41,179.86 L605.40,179.68 L606.38,179.51 L607.37,179.33 L608.35,179.15 L609.33,178.96 L610.31,178.78 L611.29,178.59 L612.28,178.39 L613.26,178.19 L614.24,177.99 L615.21,177.78 L616.19,177.57 L617.17,177.36 L618.14,177.14 L619.12,176.91 L620.09,176.68 L621.06,176.44 L622.03,176.20 L623.00,175.95 L623.97,175.70 L624.93,175.44 L625.90,175.17 L626.86,174.91 L627.82,174.63 L628.78,174.36 L629.74,174.08 L630.70,173.79 L631.66,173.50 L632.61,173.21 L633.57,172.91 L634.52,172.61 L635.47,172.30 L636.42,171.99 L637.37,171.67 L638.32,171.35 L639.26,171.02 L640.21,170.69 L641.15,170.35 L642.08,170.00 L643.02,169.65 L643.95,169.28 L644.88,168.91 L645.80,168.52 L646.71,168.13 L647.63,167.72 L648.53,167.30 L649.43,166.86 L650.33,166.42 L651.22,165.97 L652.11,165.51 L652.99,165.04 L653.87,164.56 L654.75,164.09 L655.63,163.61 L656.51,163.13 L657.39,162.65 L658.26,162.17 L659.14,161.69 L660.01,161.20 L660.88,160.71 L661.75,160.21 L662.61,159.71 L663.47,159.19 L664.32,158.67 L665.16,158.13 L665.99,157.57 L666.81,157.00 L667.62,156.41 L668.41,155.81 L669.19,155.18 L669.96,154.54 L670.71,153.89 L671.46,153.22 L672.19,152.55 L672.93,151.87 L673.66,151.19 L674.39,150.51 L675.11,149.84 L675.84,149.16 L675.84,149.16" fill="none" stroke="#ff1010" stroke-width="2.3" stroke-linejoin="round" stroke-linecap="round"/>
<path d="M681.4,144.2 L677.1,152.9 L676.7,148.4 L672.3,147.5Z" fill="#ff1010" stroke="#ff1010" stroke-width="0.6" stroke-linejoin="round"/>
<path d="M417.00,214.70 L417.99,214.53 L418.97,214.37 L419.96,214.20 L420.94,214.03 L421.93,213.86 L422.91,213.67 L423.89,213.48 L424.87,213.28 L425.85,213.06 L426.82,212.83 L427.79,212.59 L428.75,212.33 L429.71,212.05 L430.67,211.77 L431.63,211.48 L432.58,211.18 L433.53,210.86 L434.48,210.54 L435.42,210.20 L436.35,209.85 L437.27,209.47 L438.19,209.08 L439.10,208.66 L439.99,208.22 L440.88,207.76 L441.75,207.27 L442.62,206.78 L443.47,206.26 L444.32,205.73 L445.16,205.19 L446.00,204.64 L446.82,204.08 L447.64,203.51 L448.46,202.93 L449.26,202.33 L450.05,201.73 L450.84,201.11 L451.61,200.47 L452.36,199.82 L453.10,199.14 L453.81,198.45 L454.51,197.74 L455.19,197.01 L455.85,196.26 L456.50,195.50 L457.14,194.73 L457.77,193.96 L458.40,193.18 L459.03,192.40 L459.66,191.62 L460.29,190.85 L460.93,190.08 L461.56,189.31 L462.20,188.54 L462.85,187.78 L463.52,187.03 L464.20,186.30 L464.90,185.60 L465.62,184.91 L466.37,184.25 L467.13,183.62 L467.92,183.01 L468.73,182.42 L469.56,181.86 L470.39,181.31 L471.24,180.79 L472.10,180.27 L472.96,179.77 L473.83,179.28 L474.70,178.79 L475.58,178.32 L476.47,177.86 L477.36,177.41 L478.26,176.97 L479.17,176.55 L480.08,176.14 L481.00,175.76 L481.93,175.40 L482.87,175.06 L483.82,174.76 L484.78,174.48 L485.74,174.23 L486.72,174.01 L487.69,173.82 L488.68,173.66 L489.67,173.53 L490.66,173.43 L491.65,173.36 L492.65,173.33 L493.64,173.33 L494.64,173.37 L495.63,173.43 L496.63,173.52 L497.62,173.64 L498.61,173.76 L499.60,173.88 L500.60,174.00 L501.59,174.10 L502.58,174.20 L503.58,174.28 L504.58,174.34 L505.58,174.39 L506.57,174.43 L507.57,174.45 L508.57,174.46 L509.57,174.46 L510.57,174.45 L511.57,174.43 L512.57,174.40 L513.57,174.37 L514.57,174.32 L515.57,174.27 L516.57,174.22 L517.56,174.16 L518.56,174.09 L519.56,174.02 L520.56,173.94 L521.55,173.85 L522.55,173.76 L523.54,173.66 L524.54,173.55 L525.53,173.44 L526.52,173.32 L527.51,173.19 L528.51,173.06 L529.50,172.92 L530.49,172.78 L531.48,172.63 L532.46,172.48 L533.45,172.33 L534.44,172.18 L535.43,172.02 L536.42,171.87 L537.40,171.71 L538.39,171.56 L539.38,171.40 L540.37,171.24 L541.35,171.08 L542.34,170.92 L543.33,170.76 L544.31,170.59 L545.30,170.42 L546.28,170.25 L547.27,170.08 L548.25,169.90 L549.24,169.73 L550.22,169.54 L551.20,169.36 L552.19,169.17 L553.17,168.98 L554.15,168.78 L555.13,168.58 L556.11,168.39 L557.09,168.19 L558.07,167.99 L559.05,167.80 L560.03,167.61 L561.02,167.43 L562.00,167.26 L562.99,167.09 L563.97,166.93 L564.96,166.78 L565.95,166.64 L566.94,166.51 L567.93,166.38 L568.93,166.25 L569.92,166.14 L570.91,166.02 L571.91,165.92 L572.90,165.81 L573.90,165.71 L574.89,165.61 L575.89,165.51 L576.88,165.42 L577.88,165.32 L578.87,165.23 L579.87,165.14 L580.86,165.05 L581.86,164.96 L582.86,164.88 L583.85,164.80 L584.85,164.73 L585.85,164.67 L586.85,164.62 L587.85,164.58 L588.84,164.55 L589.84,164.54 L590.84,164.55 L591.84,164.56 L592.84,164.59 L593.84,164.63 L594.84,164.68 L595.84,164.73 L596.84,164.79 L597.83,164.86 L598.83,164.94 L599.83,165.02 L600.82,165.11 L601.82,165.20 L602.81,165.31 L603.81,165.42 L604.80,165.53 L605.79,165.63 L606.79,165.73 L607.78,165.81 L608.78,165.87 L609.78,165.90 L610.77,165.91 L611.77,165.88 L612.77,165.83 L613.76,165.75 L614.75,165.65 L615.74,165.53 L616.73,165.38 L617.72,165.21 L618.70,165.03 L619.68,164.82 L620.65,164.60 L621.62,164.36 L622.59,164.10 L623.54,163.83 L624.50,163.53 L625.45,163.22 L626.39,162.89 L627.33,162.54 L628.26,162.19 L629.19,161.82 L630.12,161.46 L631.05,161.09 L631.99,160.73 L632.92,160.37 L633.85,160.02 L634.79,159.68 L635.74,159.36 L636.69,159.05 L637.65,158.76 L638.61,158.48 L639.57,158.21 L640.53,157.94 L641.49,157.66 L642.45,157.38 L643.40,157.07 L644.34,156.74 L645.27,156.39 L646.20,156.02 L647.11,155.62 L648.02,155.20 L648.92,154.77 L649.82,154.32 L650.71,153.87 L651.60,153.41 L652.48,152.95 L653.37,152.48 L654.25,152.02 L655.14,151.56 L656.03,151.11 L656.92,150.65 L657.82,150.20 L658.71,149.76 L659.61,149.31 L660.50,148.86 L661.40,148.42 L662.29,147.97 L663.18,147.52 L664.07,147.07 L664.96,146.61 L665.85,146.15 L666.74,145.68 L667.62,145.21 L668.49,144.73 L669.37,144.25 L670.24,143.76 L671.11,143.27 L671.97,142.77 L672.83,142.27 L673.68,141.78 L674.52,141.30 L675.33,140.82 L676.13,140.36 L676.92,139.90 L676.92,139.90" fill="none" stroke="#148a14" stroke-width="2.3" stroke-linejoin="round" stroke-linecap="round"/>
<path d="M683.2,136.3 L677.2,143.9 L677.7,139.4 L673.6,137.7Z" fill="#148a14" stroke="#148a14" stroke-width="0.6" stroke-linejoin="round"/>
<path d="M417.00,214.70 L417.93,214.33 L418.86,213.97 L419.79,213.60 L420.72,213.22 L421.64,212.84 L422.56,212.45 L423.47,212.05 L424.38,211.63 L425.28,211.19 L426.17,210.74 L427.05,210.27 L427.93,209.79 L428.80,209.30 L429.66,208.80 L430.53,208.29 L431.38,207.78 L432.24,207.26 L433.10,206.75 L433.96,206.23 L434.81,205.72 L435.67,205.21 L436.53,204.70 L437.39,204.19 L438.26,203.68 L439.12,203.17 L439.98,202.67 L440.84,202.16 L441.70,201.65 L442.56,201.14 L443.42,200.63 L444.27,200.11 L445.13,199.59 L445.98,199.06 L446.82,198.52 L447.66,197.99 L448.50,197.44 L449.34,196.89 L450.17,196.33 L450.99,195.77 L451.82,195.20 L452.64,194.63 L453.46,194.06 L454.27,193.48 L455.09,192.90 L455.90,192.32 L456.72,191.74 L457.53,191.16 L458.34,190.58 L459.16,190.00 L459.97,189.41 L460.78,188.83 L461.60,188.25 L462.41,187.67 L463.23,187.10 L464.06,186.53 L464.89,185.98 L465.73,185.44 L466.58,184.91 L467.43,184.40 L468.30,183.89 L469.17,183.40 L470.05,182.92 L470.93,182.45 L471.82,181.99 L472.71,181.54 L473.60,181.10 L474.51,180.67 L475.41,180.26 L476.33,179.85 L477.24,179.45 L478.17,179.06 L479.09,178.69 L480.02,178.32 L480.95,177.96 L481.89,177.60 L482.82,177.25 L483.76,176.90 L484.70,176.55 L485.64,176.21 L486.58,175.87 L487.52,175.54 L488.47,175.21 L489.41,174.89 L490.36,174.57 L491.31,174.26 L492.26,173.95 L493.21,173.64 L494.17,173.34 L495.12,173.05 L496.08,172.76 L497.04,172.48 L498.00,172.22 L498.97,171.96 L499.94,171.72 L500.91,171.49 L501.89,171.28 L502.87,171.08 L503.85,170.90 L504.84,170.73 L505.82,170.58 L506.81,170.43 L507.80,170.29 L508.79,170.16 L509.79,170.03 L510.78,169.91 L511.77,169.79 L512.77,169.68 L513.76,169.56 L514.75,169.45 L515.75,169.34 L516.74,169.22 L517.73,169.11 L518.73,169.00 L519.72,168.89 L520.71,168.78 L521.71,168.67 L522.70,168.56 L523.70,168.46 L524.69,168.35 L525.69,168.25 L526.68,168.15 L527.68,168.05 L528.67,167.95 L529.67,167.85 L530.66,167.75 L531.66,167.65 L532.65,167.54 L533.64,167.43 L534.64,167.32 L535.63,167.21 L536.62,167.09 L537.62,166.97 L538.61,166.84 L539.60,166.71 L540.59,166.58 L541.58,166.44 L542.57,166.30 L543.56,166.15 L544.55,166.01 L545.54,165.86 L546.53,165.71 L547.52,165.57 L548.51,165.42 L549.50,165.28 L550.49,165.13 L551.48,164.99 L552.47,164.85 L553.46,164.71 L554.45,164.57 L555.44,164.43 L556.43,164.29 L557.42,164.15 L558.41,164.01 L559.40,163.87 L560.39,163.73 L561.38,163.59 L562.37,163.46 L563.36,163.32 L564.35,163.19 L565.34,163.05 L566.33,162.92 L567.32,162.79 L568.32,162.66 L569.31,162.53 L570.30,162.41 L571.29,162.29 L572.29,162.18 L573.28,162.06 L574.27,161.95 L575.27,161.84 L576.26,161.73 L577.25,161.62 L578.25,161.51 L579.24,161.40 L580.24,161.28 L581.23,161.16 L582.22,161.04 L583.21,160.91 L584.20,160.78 L585.19,160.63 L586.18,160.48 L587.17,160.32 L588.15,160.15 L589.14,159.97 L590.12,159.79 L591.10,159.59 L592.08,159.38 L593.05,159.17 L594.03,158.95 L595.00,158.72 L595.97,158.49 L596.95,158.25 L597.92,158.02 L598.89,157.77 L599.86,157.53 L600.83,157.29 L601.80,157.05 L602.77,156.80 L603.74,156.55 L604.71,156.30 L605.67,156.06 L606.64,155.80 L607.61,155.55 L608.58,155.30 L609.54,155.04 L610.51,154.78 L611.47,154.52 L612.44,154.25 L613.40,153.99 L614.36,153.72 L615.33,153.44 L616.29,153.17 L617.25,152.89 L618.21,152.60 L619.16,152.32 L620.12,152.03 L621.08,151.73 L622.03,151.43 L622.98,151.13 L623.93,150.82 L624.88,150.50 L625.83,150.18 L626.78,149.86 L627.72,149.53 L628.67,149.20 L629.61,148.87 L630.55,148.53 L631.49,148.19 L632.43,147.85 L633.37,147.51 L634.31,147.16 L635.24,146.81 L636.18,146.46 L637.12,146.11 L638.05,145.75 L638.99,145.40 L639.92,145.04 L640.86,144.69 L641.79,144.33 L642.72,143.97 L643.66,143.62 L644.59,143.26 L645.53,142.91 L646.46,142.55 L647.40,142.20 L648.33,141.85 L649.27,141.49 L650.20,141.13 L651.13,140.77 L652.06,140.39 L652.98,140.01 L653.90,139.61 L654.81,139.20 L655.72,138.78 L656.62,138.35 L657.51,137.91 L658.40,137.45 L659.29,136.99 L660.17,136.51 L661.04,136.03 L661.91,135.53 L662.77,135.02 L663.62,134.50 L664.46,133.96 L665.29,133.40 L666.11,132.83 L666.91,132.24 L667.70,131.63 L668.48,131.00 L669.24,130.35 L669.98,129.69 L670.72,129.01 L671.44,128.32 L672.15,127.62 L672.85,126.91 L673.54,126.19 L674.23,125.48 L674.91,124.78 L675.59,124.09 L676.25,123.41 L676.90,122.75 L677.22,122.42" fill="none" stroke="#1a1ae6" stroke-width="2.3" stroke-linejoin="round" stroke-linecap="round"/>
<path d="M683.7,116.1 L679.8,125.0 L679.2,120.5 L674.7,119.8Z" fill="#1a1ae6" stroke="#1a1ae6" stroke-width="0.6" stroke-linejoin="round"/>
<path d="M417.00,214.70 L417.98,214.49 L418.95,214.28 L419.93,214.06 L420.90,213.83 L421.87,213.59 L422.83,213.32 L423.73,212.94 L424.54,212.42 L425.22,211.73 L425.79,210.93 L426.27,210.06 L426.71,209.16 L427.14,208.26 L427.58,207.36 L428.02,206.46 L428.46,205.57 L428.89,204.66 L429.32,203.76 L429.75,202.86 L430.17,201.95 L430.60,201.05 L431.03,200.14 L431.46,199.24 L431.90,198.34 L432.33,197.44 L432.77,196.54 L433.21,195.64 L433.64,194.74 L434.08,193.84 L434.52,192.94 L434.95,192.04 L435.39,191.14 L435.82,190.24 L436.25,189.34 L436.69,188.44 L437.12,187.54 L437.54,186.63 L437.97,185.73 L438.39,184.82 L438.82,183.91 L439.23,183.01 L439.65,182.10 L440.07,181.19 L440.48,180.28 L440.89,179.37 L441.30,178.45 L441.71,177.54 L442.12,176.63 L442.52,175.71 L442.93,174.80 L443.34,173.89 L443.75,172.97 L444.15,172.06 L444.56,171.15 L444.97,170.24 L445.38,169.32 L445.78,168.41 L446.19,167.49 L446.59,166.58 L446.99,165.66 L447.38,164.74 L447.78,163.82 L448.18,162.91 L448.58,161.99 L448.98,161.07 L449.38,160.16 L449.78,159.24 L450.19,158.33 L450.61,157.42 L451.03,156.52 L451.46,155.61 L451.90,154.71 L452.35,153.82 L452.80,152.93 L453.27,152.04 L453.74,151.16 L454.22,150.28 L454.71,149.41 L455.20,148.54 L455.71,147.68 L456.23,146.83 L456.77,145.99 L457.32,145.15 L457.89,144.33 L458.47,143.52 L459.07,142.72 L459.69,141.93 L460.33,141.16 L460.98,140.40 L461.64,139.66 L462.32,138.92 L463.02,138.20 L463.72,137.50 L464.44,136.80 L465.17,136.11 L465.91,135.45 L466.67,134.80 L467.45,134.17 L468.24,133.57 L469.06,132.99 L469.90,132.44 L470.75,131.92 L471.61,131.42 L472.49,130.95 L473.38,130.49 L474.29,130.06 L475.20,129.66 L476.13,129.28 L477.06,128.94 L478.01,128.63 L478.97,128.35 L479.94,128.11 L480.92,127.89 L481.90,127.68 L482.88,127.48 L483.86,127.29 L484.84,127.09 L485.82,126.90 L486.80,126.72 L487.79,126.54 L488.77,126.39 L489.76,126.24 L490.76,126.11 L491.75,125.99 L492.74,125.88 L493.74,125.78 L494.73,125.68 L495.73,125.59 L496.72,125.49 L497.72,125.40 L498.71,125.31 L499.71,125.22 L500.71,125.13 L501.70,125.03 L502.70,124.94 L503.69,124.84 L504.69,124.73 L505.68,124.62 L506.67,124.51 L507.67,124.40 L508.66,124.29 L509.66,124.18 L510.65,124.07 L511.64,123.96 L512.64,123.84 L513.63,123.72 L514.62,123.60 L515.61,123.47 L516.60,123.34 L517.59,123.20 L518.58,123.06 L519.57,122.91 L520.56,122.76 L521.55,122.60 L522.54,122.44 L523.52,122.28 L524.51,122.12 L525.50,121.95 L526.48,121.78 L527.47,121.61 L528.45,121.43 L529.43,121.25 L530.42,121.07 L531.40,120.88 L532.38,120.70 L533.37,120.51 L534.35,120.32 L535.33,120.12 L536.31,119.92 L537.29,119.72 L538.27,119.52 L539.24,119.31 L540.22,119.10 L541.20,118.88 L542.17,118.67 L543.15,118.45 L544.12,118.22 L545.10,118.00 L546.07,117.77 L547.04,117.53 L548.02,117.30 L548.99,117.06 L549.96,116.81 L550.93,116.57 L551.89,116.32 L552.86,116.07 L553.83,115.81 L554.80,115.56 L555.76,115.30 L556.73,115.04 L557.69,114.78 L558.66,114.51 L559.62,114.24 L560.58,113.97 L561.54,113.70 L562.50,113.42 L563.46,113.14 L564.42,112.86 L565.38,112.57 L566.34,112.29 L567.30,112.00 L568.26,111.71 L569.21,111.42 L570.17,111.12 L571.12,110.83 L572.08,110.53 L573.03,110.23 L573.99,109.93 L574.94,109.63 L575.89,109.33 L576.84,109.02 L577.80,108.71 L578.75,108.41 L579.70,108.10 L580.65,107.78 L581.60,107.47 L582.54,107.15 L583.49,106.83 L584.44,106.50 L585.38,106.17 L586.33,105.84 L587.27,105.51 L588.21,105.17 L589.15,104.84 L590.09,104.50 L591.04,104.16 L591.98,103.83 L592.92,103.49 L593.86,103.16 L594.80,102.82 L595.75,102.48 L596.69,102.15 L597.63,101.81 L598.57,101.48 L599.51,101.14 L600.45,100.80 L601.39,100.46 L602.33,100.12 L603.27,99.78 L604.22,99.44 L605.16,99.11 L606.10,98.77 L607.04,98.44 L607.98,98.10 L608.93,97.77 L609.87,97.45 L610.82,97.13 L611.77,96.81 L612.72,96.49 L613.67,96.18 L614.62,95.88 L615.57,95.57 L616.53,95.27 L617.48,94.96 L618.43,94.66 L619.38,94.35 L620.33,94.03 L621.28,93.72 L622.22,93.39 L623.17,93.06 L624.11,92.72 L625.05,92.38 L625.98,92.02 L626.92,91.67 L627.85,91.31 L628.78,90.94 L629.71,90.58 L630.64,90.21 L631.57,89.83 L632.49,89.45 L633.42,89.07 L634.34,88.68 L635.25,88.28 L636.17,87.88 L637.08,87.47 L637.99,87.05 L638.90,86.63 L639.80,86.19 L640.70,85.76 L641.59,85.32 L642.49,84.87 L643.38,84.42 L644.26,83.94 L645.13,83.45 L645.98,82.92 L646.80,82.36 L647.60,81.76 L648.36,81.12 L649.10,80.44 L649.80,79.73 L650.48,79.00 L651.13,78.24 L651.77,77.47 L652.39,76.69 L653.00,75.90 L653.61,75.10 L654.21,74.31 L654.82,73.51 L655.44,72.72 L656.06,71.94 L656.68,71.16 L657.31,70.38 L657.93,69.59 L658.55,68.81 L659.17,68.03 L659.79,67.24 L660.41,66.46 L661.02,65.67 L661.63,64.87 L662.24,64.08 L662.84,63.28 L663.43,62.47 L664.02,61.66 L664.60,60.85 L665.17,60.03 L665.74,59.21 L666.30,58.38 L666.86,57.55 L667.41,56.72 L667.96,55.88 L668.49,55.03 L669.03,54.19 L669.56,53.34 L670.09,52.49 L670.61,51.64 L671.13,50.78 L671.64,49.93 L672.16,49.07 L672.67,48.21 L673.17,47.35 L673.67,46.48 L674.17,45.61 L674.66,44.74 L675.15,43.87 L675.63,42.99 L676.10,42.11 L676.57,41.23 L677.02,40.33 L677.46,39.44 L677.89,38.53 L678.30,37.62 L678.70,36.70 L679.09,35.78 L679.47,34.86 L679.85,33.95 L680.21,33.08 L680.56,32.26 L680.56,32.26" fill="none" stroke="#9218e0" stroke-width="2.3" stroke-linejoin="round" stroke-linecap="round"/>
<path d="M682.8,27.1 L682.5,36.8 L680.3,32.9 L675.9,33.9Z" fill="#9218e0" stroke="#9218e0" stroke-width="0.6" stroke-linejoin="round"/>
<path d="M423.84,223.8v-5 M431.38,223.8v-5 M438.91,223.8v-5 M446.45,223.8v-5 M453.99,223.8v-10 M461.53,223.8v-5 M469.07,223.8v-5 M476.60,223.8v-5 M484.14,223.8v-5 M491.68,223.8v-10 M499.22,223.8v-5 M506.76,223.8v-5 M514.29,223.8v-5 M521.83,223.8v-5 M529.37,223.8v-10 M536.91,223.8v-5 M544.45,223.8v-5 M551.98,223.8v-5 M559.52,223.8v-5 M567.06,223.8v-10 M574.60,223.8v-5 M582.14,223.8v-5 M589.67,223.8v-5 M597.21,223.8v-5 M604.75,223.8v-10 M612.29,223.8v-5 M619.83,223.8v-5 M627.36,223.8v-5 M634.90,223.8v-5 M642.44,223.8v-10 M649.98,223.8v-5 M657.52,223.8v-5 M665.05,223.8v-5 M672.59,223.8v-5 M680.13,223.8v-10 M416.3,215.35h9.5 M416.3,207.00h5 M416.3,198.66h5 M416.3,190.31h5 M416.3,181.97h5 M416.3,173.62h9.5 M416.3,165.27h5 M416.3,156.93h5 M416.3,148.58h5 M416.3,140.24h5 M416.3,131.89h9.5 M416.3,123.54h5 M416.3,115.20h5 M416.3,106.85h5 M416.3,98.51h5 M416.3,90.16h9.5 M416.3,81.81h5 M416.3,73.47h5 M416.3,65.12h5 M416.3,56.78h5 M416.3,48.43h9.5 M416.3,40.08h5 M416.3,31.74h5 M416.3,23.39h5 M416.3,15.05h5" stroke="#1a1a1a" stroke-width="1.4" fill="none"/>
<rect x="416.3" y="6.7" width="271.3" height="217.10000000000002" fill="none" stroke="#1a1a1a" stroke-width="1.4"/>
<text x="409.0" y="220.65" font-size="14" fill="#1a1a1a" stroke="#1a1a1a" stroke-width="0.12" text-anchor="end" >0.0</text>
<text x="409.0" y="178.92000000000002" font-size="14" fill="#1a1a1a" stroke="#1a1a1a" stroke-width="0.12" text-anchor="end" >0.5</text>
<text x="409.0" y="137.19" font-size="14" fill="#1a1a1a" stroke="#1a1a1a" stroke-width="0.12" text-anchor="end" >1.0</text>
<text x="409.0" y="95.46" font-size="14" fill="#1a1a1a" stroke="#1a1a1a" stroke-width="0.12" text-anchor="end" >1.5</text>
<text x="409.0" y="53.730000000000004" font-size="14" fill="#1a1a1a" stroke="#1a1a1a" stroke-width="0.12" text-anchor="end" >2.0</text>
<text x="409.0" y="12.000000000000018" font-size="14" fill="#1a1a1a" stroke="#1a1a1a" stroke-width="0.12" text-anchor="end" >2.5</text>
<text x="414.35" y="237.8" font-size="14" fill="#1a1a1a" stroke="#1a1a1a" stroke-width="0.12" text-anchor="middle" >0.0</text>
<text x="451.75" y="237.8" font-size="14" fill="#1a1a1a" stroke="#1a1a1a" stroke-width="0.12" text-anchor="middle" >0.1</text>
<text x="490.2" y="237.8" font-size="14" fill="#1a1a1a" stroke="#1a1a1a" stroke-width="0.12" text-anchor="middle" >0.2</text>
<text x="527.95" y="237.8" font-size="14" fill="#1a1a1a" stroke="#1a1a1a" stroke-width="0.12" text-anchor="middle" >0.3</text>
<text x="566.45" y="237.8" font-size="14" fill="#1a1a1a" stroke="#1a1a1a" stroke-width="0.12" text-anchor="middle" >0.4</text>
<text x="604.7" y="237.8" font-size="14" fill="#1a1a1a" stroke="#1a1a1a" stroke-width="0.12" text-anchor="middle" >0.5</text>
<text x="642.55" y="237.8" font-size="14" fill="#1a1a1a" stroke="#1a1a1a" stroke-width="0.12" text-anchor="middle" >0.6</text>
<text x="680.05" y="237.8" font-size="14" fill="#1a1a1a" stroke="#1a1a1a" stroke-width="0.12" text-anchor="middle" >0.7</text>
<text x="551.55" y="263.1" font-size="18" fill="#1a1a1a" stroke="#1a1a1a" stroke-width="0.12" text-anchor="middle" textLength="159.7" lengthAdjust="spacing">Compressive Strain</text>
<text transform="translate(373.9,112.85) rotate(-90)" font-size="18" fill="#1a1a1a" stroke="#1a1a1a" stroke-width="0.12" text-anchor="middle" textLength="209.2" lengthAdjust="spacing">Compressive Stress, MPa</text>
<text x="437.45" y="30.5" font-size="17.6" fill="#1a1a1a" stroke="#1a1a1a" stroke-width="0.12" text-anchor="middle" >A</text>
<path d="M435.9,50.1H462.6" stroke="#1a1ae6" stroke-width="2"/>
<text x="465.3" y="55.0" font-size="13.5" fill="#1a1ae6" stroke="#1a1ae6" stroke-width="0.12" text-anchor="start" >A18-P8</text>
<path d="M435.9,64.3H462.6" stroke="#ff1010" stroke-width="2"/>
<text x="465.3" y="69.2" font-size="13.5" fill="#ff1010" stroke="#ff1010" stroke-width="0.12" text-anchor="start" >A18-MA18-P8</text>
<path d="M435.9,79.3H462.6" stroke="#9218e0" stroke-width="2"/>
<text x="465.3" y="84.2" font-size="13.5" fill="#9218e0" stroke="#9218e0" stroke-width="0.12" text-anchor="start" >A18-MA22-P8</text>
<path d="M435.9,93.5H462.6" stroke="#148a14" stroke-width="2"/>
<text x="465.3" y="98.4" font-size="13.5" fill="#148a14" stroke="#148a14" stroke-width="0.12" text-anchor="start" >MA22-P8</text>
</svg>
</body></html>
